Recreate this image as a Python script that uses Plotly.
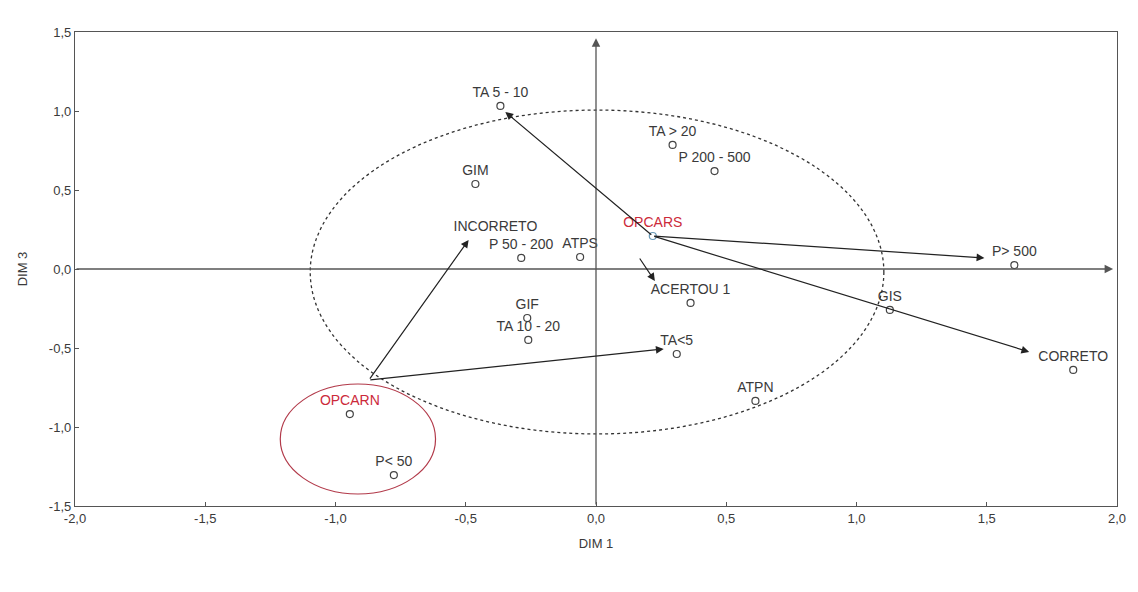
import plotly.graph_objects as go

# Category coordinates on the first and third dimensions
labels = ["TA 5 - 10", "TA > 20", "P 200 - 500", "GIM", "P 50 - 200", "ATPS",
          "P> 500", "ACERTOU 1", "GIS", "CORRETO", "GIF", "TA 10 - 20",
          "TA<5", "ATPN", "P< 50"]
dim1 = [-0.367, 0.294, 0.455, -0.463, -0.287, -0.061,
        1.606, 0.363, 1.128, 1.832, -0.264, -0.260,
        0.310, 0.612, -0.776]
dim3 = [1.032, 0.785, 0.620, 0.538, 0.070, 0.076,
        0.025, -0.215, -0.259, -0.639, -0.310, -0.449,
        -0.538, -0.835, -1.304]

# Highlighted supplementary categories
opcar_labels = ["OPCARS", "OPCARN"]
opcar_dim1 = [0.218, -0.945]
opcar_dim3 = [0.209, -0.918]

# Label shown without a marker
text_only_labels = ["INCORRETO"]
text_only_dim1 = [-0.386]
text_only_dim3 = [0.22]

# Arrows: tail (x0, y0) -> head (x1, y1)
arrow_x0 = [0.218, 0.218, 0.218, 0.164, -0.872, -0.872]
arrow_y0 = [0.209, 0.209, 0.209, 0.076, -0.703, -0.703]
arrow_x1 = [-0.348, 1.491, 1.663, 0.226, -0.489, 0.260]
arrow_y1 = [0.994, 0.070, -0.525, -0.076, 0.184, -0.506]

# Grouping ellipses (x0, x1, y0, y1)
main_ellipse = [-1.097, 1.105, -1.044, 1.006]
opcarn_ellipse = [-1.212, -0.616, -1.424, -0.728]

x_ticks = [-2.0, -1.5, -1.0, -0.5, 0.0, 0.5, 1.0, 1.5, 2.0]
x_tick_text = ["-2,0", "-1,5", "-1,0", "-0,5", "0,0", "0,5", "1,0", "1,5", "2,0"]
y_ticks = [-1.5, -1.0, -0.5, 0.0, 0.5, 1.0, 1.5]
y_tick_text = ["-1,5", "-1,0", "-0,5", "0,0", "0,5", "1,0", "1,5"]

FONT = "Liberation Sans, Arial, sans-serif"
TEXT = "#3a3a3a"
RED = "#cc2a3a"
LABEL_SIZE = 14

fig = go.Figure()

fig.add_trace(go.Scatter(
    x=dim1, y=dim3, text=labels, mode="markers+text",
    textposition="top center",
    textfont=dict(family=FONT, size=LABEL_SIZE, color=TEXT),
    marker=dict(symbol="circle-open", size=7, color="#444444",
                line=dict(width=1.2, color="#444444")),
    hoverinfo="text", showlegend=False,
))

fig.add_trace(go.Scatter(
    x=opcar_dim1, y=opcar_dim3, text=opcar_labels, mode="markers+text",
    textposition="top center",
    textfont=dict(family=FONT, size=LABEL_SIZE, color=RED),
    marker=dict(symbol="circle-open", size=7,
                color=["#6a9ab8", "#444444"],
                line=dict(width=1.2, color=["#6a9ab8", "#444444"])),
    hoverinfo="text", showlegend=False,
))

fig.add_trace(go.Scatter(
    x=text_only_dim1, y=text_only_dim3, text=text_only_labels,
    mode="text", textposition="top center",
    textfont=dict(family=FONT, size=LABEL_SIZE, color=TEXT),
    hoverinfo="text", showlegend=False,
))

annotations = []
# Axes through the origin with arrowheads
annotations.append(dict(x=1.985, y=0, ax=-2.0, ay=0, xref="x", yref="y",
                        axref="x", ayref="y", text="", showarrow=True,
                        arrowhead=2, arrowsize=1.3, arrowwidth=1.3,
                        arrowcolor="#555555", standoff=0))
annotations.append(dict(x=0, y=1.46, ax=0, ay=-1.5, xref="x", yref="y",
                        axref="x", ayref="y", text="", showarrow=True,
                        arrowhead=2, arrowsize=1.3, arrowwidth=1.3,
                        arrowcolor="#555555", standoff=0))
for x0, y0, x1, y1 in zip(arrow_x0, arrow_y0, arrow_x1, arrow_y1):
    annotations.append(dict(x=x1, y=y1, ax=x0, ay=y0, xref="x", yref="y",
                            axref="x", ayref="y", text="", showarrow=True,
                            arrowhead=2, arrowsize=1.3, arrowwidth=1.2,
                            arrowcolor="#222222", standoff=0))

shapes = [
    dict(type="circle", xref="x", yref="y",
         x0=main_ellipse[0], x1=main_ellipse[1],
         y0=main_ellipse[2], y1=main_ellipse[3],
         line=dict(color="#333333", width=1.3, dash="dot")),
    dict(type="circle", xref="x", yref="y",
         x0=opcarn_ellipse[0], x1=opcarn_ellipse[1],
         y0=opcarn_ellipse[2], y1=opcarn_ellipse[3],
         line=dict(color="#b23a4a", width=1.2)),
]

axis_common = dict(
    showgrid=False, zeroline=False, showline=True, mirror=True,
    linecolor="#555555", linewidth=1.3, ticks="inside", ticklen=4,
    tickcolor="#555555",
    tickfont=dict(family=FONT, size=13, color=TEXT),
)

fig.update_layout(
    width=1138, height=592,
    margin=dict(l=75, r=18, t=32, b=86),
    paper_bgcolor="white", plot_bgcolor="white",
    xaxis=dict(range=[-2.0, 2.0], tickvals=x_ticks, ticktext=x_tick_text,
               title=dict(text="DIM 1", standoff=14,
                          font=dict(family=FONT, size=13, color=TEXT)),
               **axis_common),
    yaxis=dict(range=[-1.5, 1.5], tickvals=y_ticks, ticktext=y_tick_text,
               title=dict(text="DIM 3", standoff=18,
                          font=dict(family=FONT, size=13, color=TEXT)),
               **axis_common),
    annotations=annotations,
    shapes=shapes,
)

fig.write_html("out.html")
